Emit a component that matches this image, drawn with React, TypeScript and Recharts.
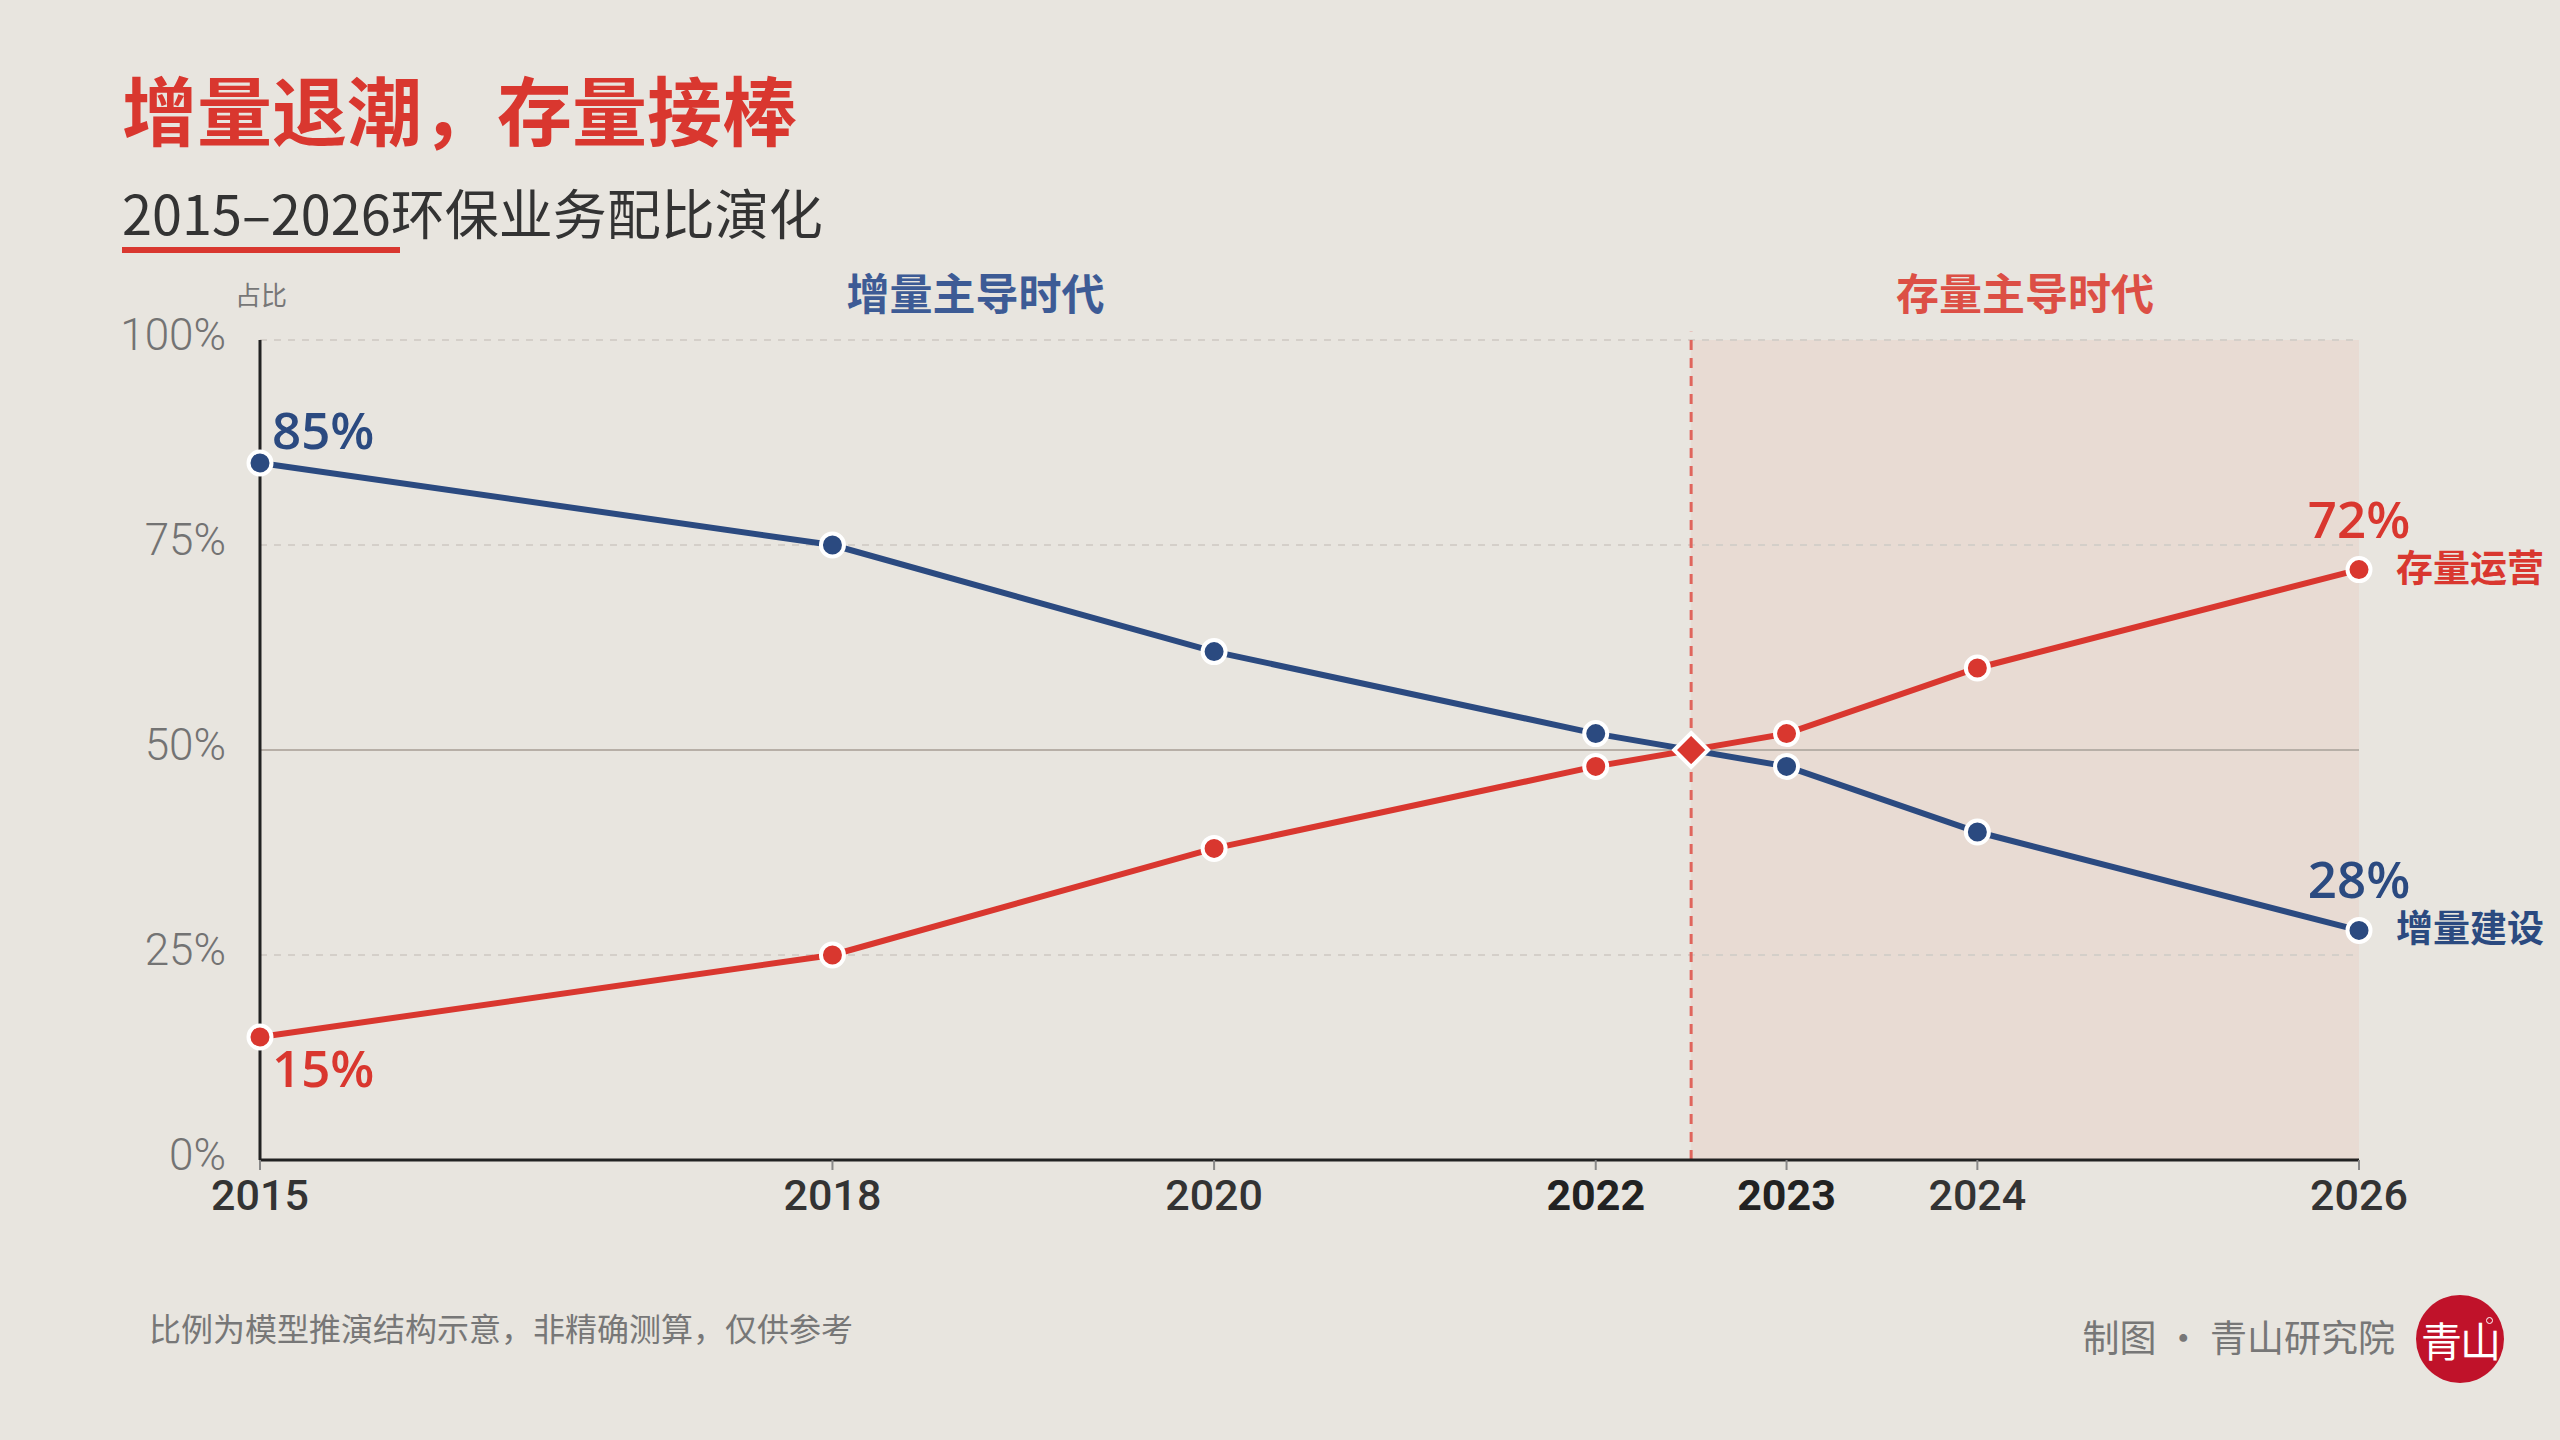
import {
  ComposedChart,
  Line,
  XAxis,
  YAxis,
  ReferenceArea,
  ReferenceLine,
  ReferenceDot,
  LabelList,
} from "recharts";

// years on the x axis (numeric scale, uneven spacing)
const years = [2015, 2018, 2020, 2022, 2023, 2024, 2026];
// share of new-build business, %
const buildShare = [85, 75, 62, 52, 48, 40, 28];
// share of operations business, %
const opsShare = [15, 25, 38, 48, 52, 60, 72];

const yTicks = [0, 25, 50, 75, 100];
const dashedGrid = [25, 75, 100];
const boldYears = [2022, 2023];

const crossYear = 2022.5;
const crossShare = 50;

const buildName = "增量建设";
const opsName = "存量运营";
const leftEra = "增量主导时代";
const rightEra = "存量主导时代";

const BLUE = "#2b4a80";
const RED = "#d9372f";
const BG = "#e8e5df";
const CJK = '"Noto Sans CJK SC", "Noto Sans", sans-serif';
const NUM = '"Open Sans", "Noto Sans", sans-serif';
const TICK = 'Roboto, "Noto Sans", sans-serif';

const data = years.map((year, i) => ({
  year,
  build: buildShare[i],
  ops: opsShare[i],
}));

function XTick(props: any) {
  const { x, y, payload } = props;
  const bold = boldYears.includes(payload.value);
  return (
    <text
      x={x}
      y={y}
      dy="0.71em"
      textAnchor="middle"
      fill={bold ? "#222" : "#333"}
      fontSize={43}
      fontWeight={bold ? 700 : 500}
      fontFamily={TICK}
    >
      {payload.value}
    </text>
  );
}

function YTick(props: any) {
  const { x, y, payload } = props;
  return (
    <text
      x={x}
      y={y - 5}
      textAnchor="end"
      dominantBaseline="central"
      fill="#737373"
      fontSize={44}
      fontWeight={300}
      fontFamily={TICK}
    >
      {payload.value}%
    </text>
  );
}

// value labels at both ends of each line, plus the series name on the right
function endLabel(series: "build" | "ops") {
  return (props: any) => {
    const { x, y, value, index } = props;
    const last = years.length - 1;
    const color = series === "build" ? BLUE : RED;
    const other = series === "build" ? opsShare : buildShare;
    if (index === 0) {
      const above = value > other[0];
      return (
        <text
          x={x + 12}
          y={above ? y - 14 : y + 50}
          fill={color}
          fontSize={51}
          fontWeight={600}
          fontFamily={NUM}
        >
          {value}%
        </text>
      );
    }
    if (index === last) {
      return (
        <g>
          <text
            x={x}
            y={y - 32}
            textAnchor="middle"
            fill={color}
            fontSize={51}
            fontWeight={600}
            fontFamily={NUM}
          >
            {value}%
          </text>
          <text
            x={x + 37}
            y={y - 4}
            dominantBaseline="central"
            fill={color}
            fontSize={37}
            fontWeight={700}
            fontFamily={CJK}
          >
            {series === "build" ? buildName : opsName}
          </text>
        </g>
      );
    }
    return null;
  };
}

function Diamond(props: any) {
  const { cx, cy } = props;
  const h = 17;
  return (
    <polygon
      points={`${cx},${cy - h} ${cx + h},${cy} ${cx},${cy + h} ${cx - h},${cy}`}
      fill={RED}
      stroke="#fff"
      strokeWidth={4}
      strokeLinejoin="miter"
    />
  );
}

export default function App() {
  return (
    <div
      style={{
        position: "absolute",
        left: 0,
        top: 0,
        width: 2560,
        height: 1440,
        background: BG,
        overflow: "hidden",
        fontFamily: CJK,
      }}
    >
      <div
        style={{
          position: "absolute",
          left: 122,
          top: 70,
          fontSize: 75,
          lineHeight: "75px",
          fontWeight: 700,
          color: RED,
          whiteSpace: "nowrap",
        }}
      >
        增量退潮，存量接棒
      </div>
      <div
        style={{
          position: "absolute",
          left: 122,
          top: 185,
          fontSize: 54,
          lineHeight: "54px",
          color: "#333",
          whiteSpace: "nowrap",
        }}
      >
        2015–2026环保业务配比演化
      </div>
      <div
        style={{
          position: "absolute",
          left: 122,
          top: 247,
          width: 278,
          height: 6,
          background: RED,
        }}
      />
      <div
        style={{
          position: "absolute",
          left: 235,
          top: 281,
          fontSize: 26,
          lineHeight: "26px",
          color: "#777",
        }}
      >
        占比
      </div>

      <ComposedChart
        width={2560}
        height={1440}
        data={data}
        margin={{ top: 340, right: 201, bottom: 220, left: 140 }}
        style={{ position: "absolute", left: 0, top: 0 }}
      >
        <ReferenceArea
          x1={2015}
          x2={crossYear}
          y1={0}
          y2={100}
          fill="none"
          fillOpacity={0}
          label={{
            value: leftEra,
            position: "top",
            offset: 30,
            fill: "#3d5b95",
            fontSize: 43,
            fontWeight: 700,
            fontFamily: CJK,
          }}
        />
        <ReferenceArea
          x1={crossYear}
          x2={2026}
          y1={0}
          y2={100}
          fill="#e8dbd3"
          fillOpacity={1}
          label={{
            value: rightEra,
            position: "top",
            offset: 30,
            fill: "#dc4f45",
            fontSize: 43,
            fontWeight: 700,
            fontFamily: CJK,
          }}
        />
        {dashedGrid.map((v) => (
          <ReferenceLine
            key={v}
            y={v}
            stroke="#d4cfc9"
            strokeWidth={2}
            strokeDasharray="7 7"
          />
        ))}
        <ReferenceLine y={50} stroke="#b7afa7" strokeWidth={2} />
        <ReferenceLine
          segment={[
            { x: crossYear, y: 0 },
            { x: crossYear, y: 101 },
          ]}
          ifOverflow="visible"
          stroke="#e0655c"
          strokeWidth={3}
          strokeDasharray="10 8"
        />
        <XAxis
          type="number"
          dataKey="year"
          domain={[2015, 2026]}
          ticks={years}
          interval={0}
          height={60}
          axisLine={{ stroke: "#222", strokeWidth: 3 }}
          tickLine={{ stroke: "#888", strokeWidth: 2 }}
          tickSize={10}
          tickMargin={9}
          tick={<XTick />}
        />
        <YAxis
          type="number"
          domain={[0, 100]}
          ticks={yTicks}
          interval={0}
          width={120}
          axisLine={{ stroke: "#222", strokeWidth: 3 }}
          tickLine={false}
          tickSize={0}
          tickMargin={34}
          tick={<YTick />}
        />
        <Line
          dataKey="build"
          stroke={BLUE}
          strokeWidth={6}
          dot={{ r: 11.5, fill: BLUE, stroke: "#fff", strokeWidth: 4 }}
          activeDot={false}
          isAnimationActive={false}
        >
          <LabelList dataKey="build" content={endLabel("build")} />
        </Line>
        <Line
          dataKey="ops"
          stroke={RED}
          strokeWidth={6}
          dot={{ r: 11.5, fill: RED, stroke: "#fff", strokeWidth: 4 }}
          activeDot={false}
          isAnimationActive={false}
        >
          <LabelList dataKey="ops" content={endLabel("ops")} />
        </Line>
        <ReferenceDot
          x={crossYear}
          y={crossShare}
          r={17}
          shape={(p: any) => <Diamond cx={p.cx} cy={p.cy} />}
        />
      </ComposedChart>

      <div
        style={{
          position: "absolute",
          left: 149,
          top: 1311,
          fontSize: 32,
          lineHeight: "32px",
          color: "#777",
          whiteSpace: "nowrap",
        }}
      >
        比例为模型推演结构示意，非精确测算，仅供参考
      </div>
      <div
        style={{
          position: "absolute",
          right: 165,
          top: 1318,
          fontSize: 37,
          lineHeight: "37px",
          color: "#777",
          whiteSpace: "nowrap",
        }}
      >
        制图 · 青山研究院
      </div>
      <div
        style={{
          position: "absolute",
          left: 2416,
          top: 1295,
          width: 88,
          height: 88,
          borderRadius: "50%",
          background: "#c0122a",
          color: "#fff",
          fontSize: 41,
          lineHeight: "88px",
          textAlign: "center",
          letterSpacing: -2,
        }}
      >
        青山
        <span
          style={{
            position: "absolute",
            left: 70,
            top: 22,
            width: 5,
            height: 5,
            borderRadius: "50%",
            border: "1.5px solid #fff",
          }}
        />
      </div>
    </div>
  );
}
